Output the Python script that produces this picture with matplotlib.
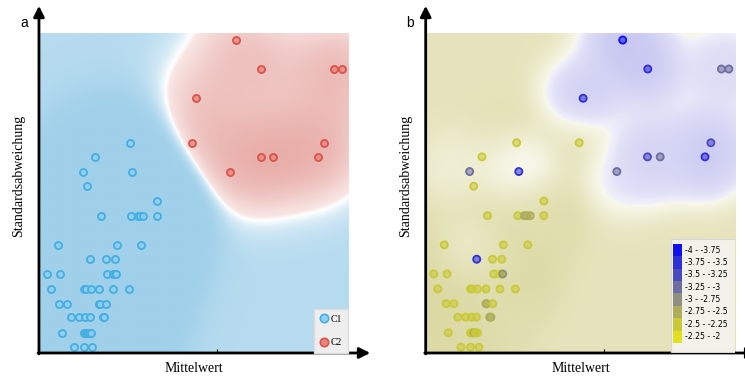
import numpy as np
import matplotlib
matplotlib.use("Agg")
import matplotlib.pyplot as plt
from matplotlib.colors import LinearSegmentedColormap, to_rgba
from matplotlib.patches import Rectangle
from matplotlib.lines import Line2D

# --- datos (escala 0..100 en ambos ejes) ---
c1_x = [29.4, 18.2, 14.2, 30.1, 15.5, 38.2,
        20.0, 29.8, 31.9, 32.7, 33.8, 38.2,
        6.0, 25.1, 33.0,
        16.5, 21.6, 24.6,
        2.6, 6.9, 22.0, 24.0, 24.5, 24.9,
        3.9, 14.5, 15.1, 16.7, 19.5, 24.0, 29.0,
        6.6, 9.1, 19.5, 19.7, 21.7,
        10.4, 12.9, 14.8, 16.4, 20.7, 21.1,
        7.3, 14.5, 15.1, 15.6, 16.1, 16.7,
        11.4, 14.5, 17.2]
c1_y = [65.7, 61.3, 56.7, 56.7, 52.1, 47.5,
        42.9, 42.9, 42.9, 42.9, 42.9, 42.9,
        33.8, 33.8, 33.8,
        29.3, 29.3, 29.3,
        24.7, 24.7, 24.7, 24.7, 24.7, 24.7,
        20.0, 20.0, 20.0, 20.0, 20.0, 20.0, 20.0,
        15.4, 15.4, 15.4, 15.4, 15.4,
        11.2, 11.2, 11.2, 11.2, 11.2, 11.2,
        6.3, 6.3, 6.3, 6.3, 6.3, 6.3,
        1.8, 1.8, 1.8]
c1_val = [-2.4, -2.4, -3.15, -3.7, -2.4, -2.4,
          -2.4, -2.4, -2.55, -2.55, -2.55, -2.4,
          -2.4, -2.4, -2.4,
          -3.75, -2.4, -2.4,
          -2.4, -2.4, -2.4, -2.4, -2.1, -2.85,
          -2.4, -2.4, -2.4, -2.4, -2.4, -2.4, -2.4,
          -2.4, -2.4, -2.55, -2.55, -2.4,
          -2.4, -2.4, -2.4, -2.4, -2.6, -2.6,
          -2.4, -2.4, -2.4, -2.75, -2.4, -2.4,
          -2.4, -2.4, -2.4]

c2_x = [63.7, 71.8, 95.6, 98.0, 50.9, 49.6, 92.2, 71.7, 75.8, 90.3, 61.8]
c2_y = [97.8, 88.75, 88.75, 88.75, 79.6, 65.7, 65.7, 61.3, 61.3, 61.3, 56.7]
c2_val = [-3.85, -3.7, -3.2, -3.2, -3.7, -2.4, -3.4, -3.5, -3.2, -3.7, -3.15]

bin_labels = ["-4 - -3.75", "-3.75 - -3.5", "-3.5 - -3.25", "-3.25 - -3",
              "-3 - -2.75", "-2.75 - -2.5", "-2.5 - -2.25", "-2.25 - -2"]
bin_edges = [-4, -3.75, -3.5, -3.25, -3, -2.75, -2.5, -2.25, -2]
bin_colors = ["#1010ee", "#3030d8", "#4a4ac0", "#6e6ea0",
              "#8f8f80", "#adad5a", "#c9c93a", "#e0e020"]


def kernel(gx, gy, px, py, sig):
    d2 = (gx[..., None] - np.asarray(px)) ** 2 + (gy[..., None] - np.asarray(py)) ** 2
    return np.exp(-d2 / (2 * sig ** 2))


def setupAxes(ax, tag_x, tag):
    ax.set_xlim(0, 100)
    ax.set_ylim(0, 100)
    for sp in ax.spines.values():
        sp.set_visible(False)
    ax.set_yticks([])
    ax.set_xticks([57.5])
    ax.set_xticklabels([])
    ax.tick_params(axis="x", direction="in", length=3, width=0.8)
    arrow = dict(arrowstyle="-|>", color="k", lw=2, mutation_scale=16, shrinkA=0, shrinkB=0)
    ax.annotate("", xy=(0, 1.085), xytext=(0, -0.003), xycoords="axes fraction",
                arrowprops=arrow, annotation_clip=False)
    ax.annotate("", xy=(1.072, 0), xytext=(-0.003, 0), xycoords="axes fraction",
                arrowprops=arrow, annotation_clip=False)
    ax.set_xlabel("Mittelwert", family="Liberation Serif", fontsize=10)
    ax.xaxis.set_label_coords(0.5, -0.028)
    ax.set_ylabel("Standardsabweichung", family="Liberation Serif", fontsize=10)
    ax.yaxis.set_label_coords(-0.045, 0.553)
    ax.figure.text(tag_x, 0.94, tag, fontsize=10, family="Liberation Sans", va="center")


fig = plt.figure(figsize=(7.45, 3.76), dpi=100)
ax_a = fig.add_axes([0.0523, 0.0612, 0.4148, 0.851])
ax_b = fig.add_axes([0.5714, 0.0612, 0.4152, 0.851])

g = np.linspace(0, 100, 260)
GX, GY = np.meshgrid(g, g)

# --- a: superficie de clasificacion ---
kr = kernel(GX, GY, c2_x, c2_y, 11).sum(-1)
kb = kernel(GX, GY, c1_x, c1_y, 11).sum(-1)
diff = kr - kb - 0.68
score = np.where(diff < 0, np.tanh(diff / 0.8), np.tanh(diff / 2.0))
cm_a = LinearSegmentedColormap.from_list("ab", [
    (0.0, "#a0d0ea"), (0.15, "#b6dbef"), (0.35, "#d8ecf6"), (0.5, "#ffffff"),
    (0.53, "#f8e6e4"), (0.7, "#f1cdca"), (1.0, "#e6a6a0")])
ax_a.imshow(score, extent=(0, 100, 0, 100), origin="lower", cmap=cm_a, vmin=-1, vmax=1,
            aspect="auto", interpolation="bilinear")
ax_a.scatter(c1_x, c1_y, s=26, facecolors=to_rgba("#8fd0f3", 0.8), edgecolors="#45aee3",
             linewidths=1.3, zorder=3)
ax_a.scatter(c2_x, c2_y, s=26, facecolors=to_rgba("#e8877e", 0.8), edgecolors="#d9534a",
             linewidths=1.3, zorder=3)
handles = [Line2D([], [], marker="o", ls="", ms=6, mfc="#8fd0f3", mec="#45aee3", mew=1.2),
           Line2D([], [], marker="o", ls="", ms=6, mfc="#e8877e", mec="#d9534a", mew=1.2)]
lgd = ax_a.legend(handles, ["C1", "C2"], loc="lower right", labelspacing=1.5,
                  handlelength=0.8, handletextpad=0.3, borderpad=0.6, borderaxespad=0,
                  fancybox=False, facecolor="#eeeeee", edgecolor="#dddddd", framealpha=1,
                  prop={"family": "Liberation Serif", "size": 7})
setupAxes(ax_a, 0.028, "a")

# --- b: valores interpolados ---
all_x = c1_x + c2_x
all_y = c1_y + c2_y
all_v = np.array(c1_val + c2_val)
kk = kernel(GX, GY, all_x, all_y, 7.5)
bkg_w, bkg_v = 0.6, -2.55
field = (kk @ all_v + bkg_w * bkg_v) / (kk.sum(-1) + bkg_w)
cm_b = LinearSegmentedColormap.from_list("bb", [
    (0.0, "#b6b6ee"), (0.2, "#c0c0f0"), (0.35, "#cfcff3"), (0.5, "#e0e0f7"),
    (0.57, "#f2f2fb"), (0.58, "#f8f8ec"), (0.65, "#f0efd6"), (0.725, "#e6e4bc"),
    (0.8, "#dad7a0"), (1.0, "#d2cf8a")])
ax_b.imshow(field, extent=(0, 100, 0, 100), origin="lower", cmap=cm_b, vmin=-4, vmax=-2,
            aspect="auto", interpolation="bilinear")
idx = np.clip(np.digitize(all_v, bin_edges) - 1, 0, len(bin_colors) - 1)
edge_c = [bin_colors[i] for i in idx]
face_c = [to_rgba(bin_colors[i], 0.55) for i in idx]
ax_b.scatter(all_x, all_y, s=26, facecolors=face_c, edgecolors=edge_c, linewidths=1.3, zorder=3)

# leyenda de rangos
ax_b.add_patch(Rectangle((0.793, 0.003), 0.207, 0.353, transform=ax_b.transAxes,
                         facecolor="#f2f2ea", edgecolor="#d6d6d6", lw=0.8, zorder=4))
ph = 0.0387
for i, (lab, col) in enumerate(zip(bin_labels, bin_colors)):
    y0 = 0.341 - (i + 1) * ph
    ax_b.add_patch(Rectangle((0.799, y0), 0.031, ph, transform=ax_b.transAxes,
                             facecolor=col, edgecolor="none", zorder=5))
    ax_b.text(0.839, y0 + ph / 2, lab, transform=ax_b.transAxes, fontsize=6.2,
              family="DejaVu Sans", fontstretch="condensed", va="center", ha="left", zorder=6)
setupAxes(ax_b, 0.545, "b")

plt.savefig("out.png", dpi=100)
